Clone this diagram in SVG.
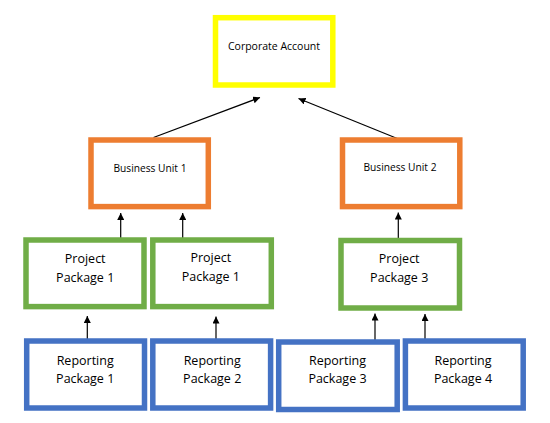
<svg xmlns="http://www.w3.org/2000/svg" width="550" height="423" viewBox="0 0 550 423">
<defs>
<marker id="arr" viewBox="0 0 10 10" refX="10" refY="5" markerWidth="7" markerHeight="7" markerUnits="userSpaceOnUse" orient="auto">
<path d="M0,0 L10,5 L0,10 z" fill="#000"/>
</marker>
</defs>
<style>
rect{fill:#fff;stroke-width:5.5}
.y{stroke:#FFFF00}
.o{stroke:#ED7D31}
.g{stroke:#70AD47}
.b{stroke:#4472C4}
text{font-family:"Open Sans","Liberation Sans",Arial,sans-serif;fill:#000;text-anchor:middle}
.s11{font-size:10.5px}
.s105{font-size:10.2px}
.s12{font-size:12.5px}
#connectors line{stroke:#000;stroke-width:1.2;marker-end:url(#arr)}
</style>
<rect width="550" height="423" fill="#fff" stroke="none"/>
<g id="connectors">
<line x1="153.5" y1="137.5" x2="260" y2="97.5"/>
<line x1="398.5" y1="139" x2="298.5" y2="98.5"/>
<line x1="120.7" y1="242" x2="120.7" y2="213"/>
<line x1="182.7" y1="240.5" x2="182.7" y2="213"/>
<line x1="398.3" y1="241.5" x2="398.3" y2="212.5"/>
<line x1="87.3" y1="344" x2="87.3" y2="316"/>
<line x1="216" y1="345.5" x2="216" y2="316.5"/>
<line x1="375" y1="343.5" x2="375" y2="313.5"/>
<line x1="425" y1="343.5" x2="425" y2="314"/>
</g>
<g id="corporate">
<rect class="y" x="215.5" y="17.7" width="117.3" height="67.3"/>
<text class="s11" x="274" y="50">Corporate Account</text>
</g>
<g id="bu1">
<rect class="o" x="91" y="140" width="117.3" height="66.6"/>
<text class="s105" x="150" y="171.5">Business Unit 1</text>
</g>
<g id="bu2">
<rect class="o" x="342.5" y="140" width="117.3" height="66.6"/>
<text class="s105" x="400" y="170.5">Business Unit 2</text>
</g>
<g id="pp1a">
<rect class="g" x="26" y="240" width="118" height="66.6"/>
<text class="s12" x="85.2" y="263.3">Project</text>
<text class="s12" x="85.2" y="281.7">Package 1</text>
</g>
<g id="pp1b">
<rect class="g" x="152.8" y="240" width="118.5" height="66.6"/>
<text class="s12" x="210.8" y="262.3">Project</text>
<text class="s12" x="210.8" y="281">Package 1</text>
</g>
<g id="pp3">
<rect class="g" x="341" y="240.5" width="118.5" height="67.5"/>
<text class="s12" x="399.2" y="263.3">Project</text>
<text class="s12" x="399.2" y="281.7">Package 3</text>
</g>
<g id="rp1">
<rect class="b" x="26.7" y="341" width="117.8" height="67"/>
<text class="s12" x="85.2" y="365">Reporting</text>
<text class="s12" x="85.2" y="383.3">Package 1</text>
</g>
<g id="rp2">
<rect class="b" x="152.8" y="341" width="117.8" height="67"/>
<text class="s12" x="212.2" y="365">Reporting</text>
<text class="s12" x="212.2" y="383.3">Package 2</text>
</g>
<g id="rp3">
<rect class="b" x="278.7" y="342" width="118.5" height="67.5"/>
<text class="s12" x="337.5" y="365">Reporting</text>
<text class="s12" x="337.5" y="383.3">Package 3</text>
</g>
<g id="rp4">
<rect class="b" x="405.4" y="341" width="117.8" height="67"/>
<text class="s12" x="463" y="365">Reporting</text>
<text class="s12" x="463" y="383.3">Package 4</text>
</g>
</svg>
